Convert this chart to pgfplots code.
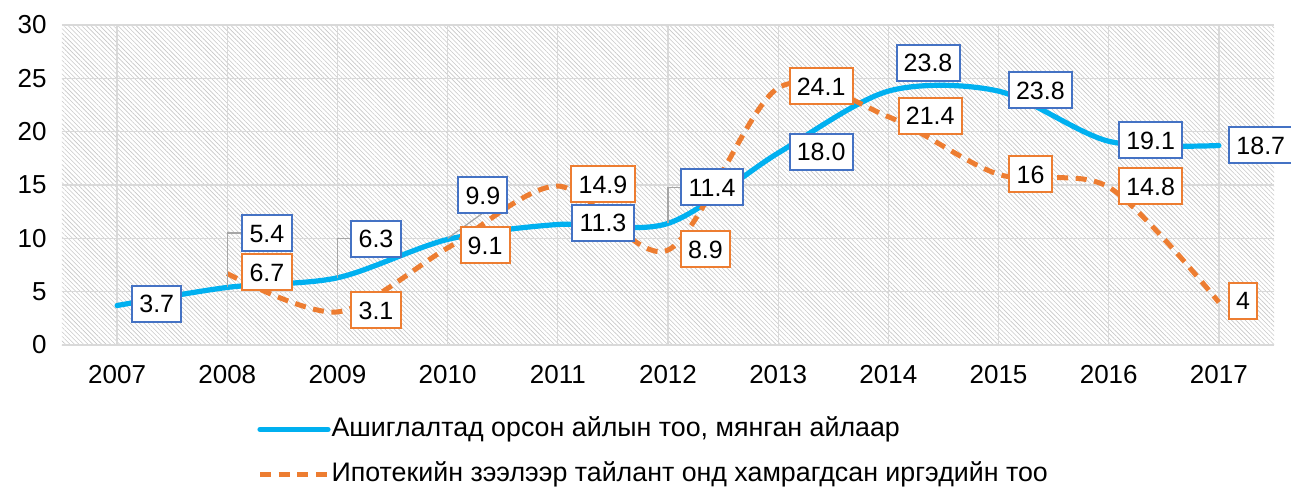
\documentclass[border=0pt]{standalone}
\usepackage{fontspec}
\setmainfont{Liberation Sans}
\usepackage{pgfplots}
\pgfplotsset{compat=1.18}
\usetikzlibrary{patterns.meta}
\definecolor{cblue}{HTML}{00B0F0}
\definecolor{corange}{HTML}{ED7D31}
\definecolor{lblue}{HTML}{4472C4}
\definecolor{gridc}{HTML}{D9D9D9}
\definecolor{leadc}{HTML}{A6A6A6}

\pgfplotstableread{
x y lab
0.36 3.89 3.7
1.36 10.5 5.4
2.35 9.98 6.3
3.32 14.06 9.9
4.41 11.44 11.3
5.40 14.8 11.4
6.39 18.14 18.0
7.36 26.48 23.8
8.38 23.86 23.8
9.38 19.2 19.1
10.38 18.75 18.7
}\bluelabels

\pgfplotstableread{
x y lab
1.36 6.84 6.7
2.35 3.28 3.1
3.34 9.37 9.1
4.41 15.05 14.9
5.34 9.0 8.9
6.39 24.28 24.1
7.38 21.5 21.4
8.29 16.03 16
9.38 14.9 14.8
10.22 4.17 4
}\orangelabels

\begin{document}
\begin{tikzpicture}
\begin{axis}[
  scale only axis, width=606pt, height=160pt,
  xmin=-0.5, xmax=10.5, ymin=0, ymax=30,
  xtick={0,1,2,3,4,5,6,7,8,9,10},
  xticklabels={2007,2008,2009,2010,2011,2012,2013,2014,2015,2016,2017},
  ytick={0,5,10,15,20,25,30},
  grid=major, grid style={gridc, line width=0.6pt},
  axis line style={draw=none}, major tick length=0pt,
  tick label style={font=\fontsize{13}{15.6}\selectfont},
  /pgf/number format/assume math mode=true,
  xticklabel style={yshift=-6.7pt},
  yticklabel style={xshift=-4.2pt},
  axis background/.style={pattern={Lines[angle=-45,distance=1.6pt,line width=0.3pt]}, pattern color=black!22},
  clip mode=individual,
  legend cell align=left,
  legend style={draw=none, fill=none, at={(0.1609,-0.222)}, anchor=north west,
    inner sep=0pt, row sep=9.5pt, column sep=0pt,
    font=\fontsize{13.4}{16}\selectfont,
    nodes={text height=10pt, text depth=3pt, inner xsep=0.5pt, inner ysep=0pt}},
  legend image code/.code={\draw[#1] (0pt,0pt) -- (34pt,0pt);},
  lab/.style={only marks, mark=*, mark size=0pt, mark options={draw=none,fill=none},
    forget plot, nodes near coords, point meta=explicit symbolic,
    nodes near coords align=center,
    nodes near coords style={anchor=center, fill=white, draw=#1, line width=1pt,
      text=black, font=\fontsize{12.5}{15}\selectfont,
      minimum height=18pt, inner xsep=3.6pt, inner ysep=0pt, text height=9pt, text depth=0pt}},
]
\addplot[cblue, line width=2.6pt, smooth, line cap=round]
  coordinates {(0,3.7)(1,5.4)(2,6.3)(3,9.9)(4,11.3)(5,11.4)(6,18.0)(7,23.8)(8,23.8)(9,19.1)(10,18.7)};
\addlegendentry{Ашиглалтад орсон айлын тоо, мянган айлаар}
\addplot[corange, line width=2.5pt, smooth, dash pattern=on 5.5pt off 3.8pt]
  coordinates {(1,6.7)(2,3.1)(3,9.1)(4,14.9)(5,8.9)(6,24.1)(7,21.4)(8,16)(9,14.8)(10,4)};
\addlegendentry{Ипотекийн зээлээр тайлант онд хамрагдсан иргэдийн тоо}

\addplot[leadc, line width=0.6pt, forget plot] coordinates {(1,5.4)(1,10.5)(1.14,10.5)};
\addplot[leadc, line width=0.6pt, forget plot] coordinates {(2,6.3)(2,9.98)(2.13,9.98)};
\addplot[leadc, line width=0.6pt, forget plot] coordinates {(3,10.0)(3.31,12.3)};
\addplot[leadc, line width=0.6pt, forget plot] coordinates {(5,11.4)(5,14.8)(5.13,14.8)};

\addplot[lab=lblue] table[x=x, y=y, meta=lab] {\bluelabels};
\addplot[lab=corange] table[x=x, y=y, meta=lab] {\orangelabels};
\end{axis}
\pgfresetboundingbox
\path (-31pt,-71pt) rectangle (614.5pt,172.5pt);
\end{tikzpicture}
\end{document}
